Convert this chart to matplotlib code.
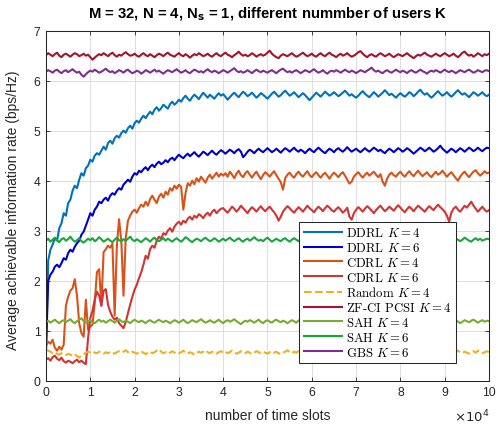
import numpy as np
import matplotlib
matplotlib.use("Agg")
import matplotlib.pyplot as plt
from matplotlib.font_manager import FontProperties

# time axis: one sample every 500 slots, 0 .. 100000
time_slots = np.arange(0, 100001, 500)

ddrl_k4 = [
    0.60, 2.40, 2.62, 2.72, 2.85, 2.80, 3.05, 3.15, 3.35, 3.30, 3.55, 3.62, 3.80, 3.90, 3.85, 4.02, 4.15, 4.10, 4.25, 4.30,
    4.42, 4.38, 4.50, 4.55, 4.52, 4.60, 4.68, 4.62, 4.75, 4.80, 4.74, 4.85, 4.90, 4.86, 4.95, 5.00, 4.96, 5.05, 5.10, 5.04,
    5.15, 5.20, 5.16, 5.24, 5.30, 5.25, 5.32, 5.38, 5.33, 5.42, 5.47, 5.40, 5.45, 5.52, 5.48, 5.44, 5.53, 5.58, 5.52, 5.56,
    5.62, 5.58, 5.65, 5.70, 5.64, 5.60, 5.67, 5.72, 5.68, 5.63, 5.70, 5.76, 5.71, 5.66, 5.72, 5.68, 5.64, 5.70, 5.75, 5.70,
    5.73, 5.68, 5.62, 5.67, 5.72, 5.76, 5.71, 5.67, 5.73, 5.78, 5.74, 5.69, 5.72, 5.76, 5.71, 5.66, 5.70, 5.75, 5.72, 5.68,
    5.64, 5.69, 5.74, 5.78, 5.73, 5.68, 5.71, 5.76, 5.80, 5.75, 5.70, 5.73, 5.77, 5.72, 5.67, 5.71, 5.75, 5.71, 5.66, 5.61,
    5.66, 5.71, 5.76, 5.72, 5.68, 5.73, 5.78, 5.74, 5.70, 5.73, 5.77, 5.73, 5.69, 5.72, 5.76, 5.80, 5.75, 5.70, 5.73, 5.69,
    5.66, 5.70, 5.75, 5.79, 5.74, 5.70, 5.67, 5.72, 5.77, 5.73, 5.68, 5.72, 5.76, 5.81, 5.76, 5.71, 5.74, 5.70, 5.66, 5.71,
    5.75, 5.71, 5.68, 5.72, 5.77, 5.74, 5.69, 5.73, 5.78, 5.82, 5.76, 5.72, 5.75, 5.70, 5.66, 5.70, 5.75, 5.79, 5.74, 5.70,
    5.73, 5.77, 5.72, 5.68, 5.72, 5.77, 5.81, 5.76, 5.72, 5.75, 5.71, 5.67, 5.72, 5.77, 5.74, 5.70, 5.73, 5.77, 5.72, 5.69,
    5.72]

ddrl_k6 = [
    0.60, 2.00, 2.12, 2.18, 2.28, 2.32, 2.27, 2.35, 2.45, 2.42, 2.55, 2.62, 2.58, 2.68, 2.75, 2.80, 2.92, 2.98, 3.10, 3.22,
    3.35, 3.30, 3.42, 3.48, 3.58, 3.55, 3.62, 3.66, 3.60, 3.70, 3.75, 3.72, 3.80, 3.85, 3.82, 3.92, 3.97, 4.02, 3.98, 4.08,
    4.15, 4.12, 4.20, 4.17, 4.23, 4.27, 4.21, 4.28, 4.32, 4.27, 4.34, 4.38, 4.33, 4.36, 4.41, 4.37, 4.43, 4.46, 4.41, 4.47,
    4.52, 4.48, 4.45, 4.50, 4.54, 4.49, 4.53, 4.57, 4.52, 4.48, 4.53, 4.58, 4.55, 4.51, 4.56, 4.60, 4.55, 4.52, 4.57, 4.61,
    4.58, 4.54, 4.58, 4.62, 4.59, 4.55, 4.60, 4.63, 4.58, 4.47, 4.52, 4.58, 4.62, 4.59, 4.55, 4.60, 4.64, 4.60, 4.57, 4.61,
    4.65, 4.61, 4.57, 4.60, 4.64, 4.60, 4.56, 4.61, 4.65, 4.62, 4.58, 4.62, 4.66, 4.61, 4.58, 4.62, 4.59, 4.55, 4.60, 4.64,
    4.60, 4.57, 4.62, 4.66, 4.62, 4.58, 4.55, 4.60, 4.64, 4.61, 4.57, 4.62, 4.65, 4.61, 4.58, 4.62, 4.67, 4.62, 4.58, 4.61,
    4.64, 4.60, 4.57, 4.61, 4.65, 4.61, 4.58, 4.62, 4.66, 4.63, 4.59, 4.62, 4.58, 4.55, 4.60, 4.64, 4.61, 4.57, 4.61, 4.65,
    4.62, 4.58, 4.61, 4.65, 4.62, 4.58, 4.54, 4.58, 4.62, 4.66, 4.63, 4.59, 4.62, 4.66, 4.62, 4.58, 4.61, 4.65, 4.70, 4.64,
    4.60, 4.56, 4.60, 4.64, 4.61, 4.57, 4.61, 4.65, 4.62, 4.58, 4.62, 4.66, 4.63, 4.59, 4.62, 4.66, 4.62, 4.59, 4.63, 4.66,
    4.65]

cdrl_k4 = [
    0.70, 0.78, 0.74, 0.82, 0.66, 0.60, 0.68, 0.62, 0.72, 1.50, 1.68, 1.80, 1.85, 2.03, 1.70, 1.15, 0.95, 0.88, 1.62, 1.02,
    1.08, 1.12, 1.55, 2.17, 2.23, 1.50, 2.57, 2.63, 2.70, 2.66, 2.74, 1.30, 2.70, 3.23, 2.80, 1.70, 2.85, 3.20, 3.30, 3.38,
    3.42, 3.36, 3.45, 3.52, 3.48, 3.58, 3.50, 3.63, 3.70, 3.62, 3.55, 3.68, 3.74, 3.66, 3.78, 3.72, 3.85, 3.80, 3.90, 3.84,
    3.92, 3.88, 3.42, 3.75, 3.95, 3.90, 4.00, 3.93, 4.05, 3.98, 4.08, 4.02, 3.96, 4.06, 4.12, 4.04, 4.10, 4.16, 4.08, 4.14,
    4.10, 4.15, 4.08, 4.18, 4.12, 4.05, 4.14, 4.20, 4.11, 4.07, 4.15, 4.19, 4.12, 4.06, 4.13, 4.18, 4.10, 4.03, 4.11, 4.17,
    4.13, 4.08, 4.14, 4.19, 4.11, 4.04, 3.97, 3.82, 4.05, 4.12, 4.16, 4.10, 4.06, 4.13, 4.18, 4.12, 4.08, 4.14, 4.19, 4.11,
    4.07, 4.13, 4.17, 4.11, 4.06, 4.12, 4.16, 4.10, 4.04, 4.11, 4.16, 4.12, 4.07, 4.13, 4.17, 4.10, 4.02, 3.94, 3.98, 4.08,
    4.13, 4.17, 4.11, 4.06, 4.12, 4.16, 4.10, 4.14, 4.18, 4.12, 4.07, 4.13, 3.98, 3.90, 4.04, 4.12, 4.16, 4.11, 4.08, 4.14,
    4.18, 4.12, 4.08, 4.14, 4.19, 4.13, 4.09, 4.15, 4.20, 4.14, 4.09, 4.13, 4.17, 4.11, 4.07, 4.13, 4.18, 4.12, 4.15, 4.20,
    4.14, 4.08, 4.13, 4.17, 4.11, 4.05, 4.00, 4.08, 4.14, 4.18, 4.12, 4.07, 4.13, 4.18, 4.21, 4.15, 4.10, 4.14, 4.19, 4.15,
    4.16]

cdrl_k6 = [
    0.42, 0.45, 0.40, 0.47, 0.50, 0.44, 0.41, 0.46, 0.39, 0.36, 0.40, 0.38, 0.35, 0.39, 0.42, 0.37, 0.40, 0.36, 0.33, 0.85,
    1.25, 1.40, 1.62, 1.78, 1.70, 1.50, 1.80, 1.83, 1.52, 1.38, 1.28, 1.22, 1.26, 1.15, 1.10, 1.05, 1.17, 1.35, 1.52, 1.68,
    1.82, 1.92, 2.05, 2.17, 2.32, 2.50, 2.44, 2.63, 2.70, 2.66, 2.80, 2.88, 2.84, 2.95, 2.92, 3.00, 3.05, 2.98, 3.08, 3.14,
    3.18, 3.12, 3.20, 3.16, 3.24, 3.28, 3.22, 3.30, 3.26, 3.33, 3.30, 3.25, 3.32, 3.36, 3.30, 3.38, 3.42, 3.35, 3.40, 3.44,
    3.45, 3.40, 3.36, 3.42, 3.48, 3.44, 3.38, 3.43, 3.50, 3.45, 3.40, 3.35, 3.42, 3.47, 3.43, 3.38, 3.44, 3.49, 3.43, 3.39,
    3.44, 3.48, 3.42, 3.37, 3.30, 3.20, 3.28, 3.38, 3.44, 3.49, 3.45, 3.40, 3.36, 3.42, 3.47, 3.43, 3.38, 3.44, 3.50, 3.45,
    3.41, 3.37, 3.43, 3.48, 3.44, 3.39, 3.45, 3.50, 3.46, 3.41, 3.38, 3.43, 3.47, 3.42, 3.36, 3.40, 3.46, 3.28, 3.22, 3.35,
    3.42, 3.47, 3.43, 3.38, 3.44, 3.49, 3.45, 3.40, 3.35, 3.41, 3.46, 3.50, 3.44, 3.39, 3.43, 3.48, 3.44, 3.40, 3.46, 3.51,
    3.46, 3.41, 3.37, 3.43, 3.48, 3.44, 3.39, 3.45, 3.50, 3.46, 3.42, 3.38, 3.44, 3.49, 3.45, 3.41, 3.47, 3.52, 3.47, 3.43,
    3.38, 3.30, 3.18, 3.36, 3.44, 3.48, 3.42, 3.38, 3.44, 3.50, 3.46, 3.52, 3.58, 3.50, 3.44, 3.38, 3.43, 3.48, 3.42, 3.38,
    3.41]

random_k4 = [
    0.62, 0.60, 0.58, 0.55, 0.57, 0.54, 0.52, 0.55, 0.53, 0.51, 0.54, 0.52, 0.50, 0.53, 0.49, 0.46, 0.51, 0.53, 0.56, 0.58,
    0.57, 0.59, 0.56, 0.55, 0.58, 0.56, 0.54, 0.57, 0.55, 0.58, 0.56, 0.54, 0.57, 0.59, 0.56, 0.58, 0.61, 0.57, 0.55, 0.58,
    0.56, 0.54, 0.57, 0.59, 0.56, 0.53, 0.56, 0.58, 0.55, 0.57, 0.60, 0.63, 0.58, 0.55, 0.57, 0.54, 0.56, 0.59, 0.56, 0.58,
    0.55, 0.57, 0.60, 0.56, 0.54, 0.57, 0.55, 0.52, 0.55, 0.58, 0.56, 0.58, 0.61, 0.57, 0.55, 0.58, 0.56, 0.54, 0.57, 0.59,
    0.56, 0.58, 0.55, 0.57, 0.60, 0.57, 0.54, 0.56, 0.59, 0.57, 0.55, 0.58, 0.56, 0.53, 0.56, 0.59, 0.57, 0.55, 0.58, 0.56,
    0.54, 0.57, 0.59, 0.56, 0.58, 0.55, 0.53, 0.56, 0.58, 0.61, 0.57, 0.55, 0.58, 0.56, 0.59, 0.57, 0.54, 0.57, 0.55, 0.58,
    0.60, 0.57, 0.55, 0.58, 0.56, 0.53, 0.56, 0.59, 0.57, 0.55, 0.58, 0.61, 0.57, 0.55, 0.57, 0.54, 0.57, 0.59, 0.56, 0.58,
    0.55, 0.58, 0.60, 0.57, 0.54, 0.57, 0.55, 0.58, 0.56, 0.53, 0.56, 0.59, 0.57, 0.55, 0.58, 0.60, 0.57, 0.55, 0.57, 0.54,
    0.57, 0.59, 0.56, 0.54, 0.57, 0.55, 0.58, 0.61, 0.57, 0.55, 0.57, 0.54, 0.56, 0.59, 0.57, 0.55, 0.58, 0.56, 0.53, 0.56,
    0.58, 0.56, 0.59, 0.57, 0.54, 0.57, 0.60, 0.57, 0.55, 0.58, 0.56, 0.54, 0.57, 0.59, 0.56, 0.60, 0.58, 0.55, 0.57, 0.59,
    0.57]

zfci_k4 = [
    6.51, 6.55, 6.52, 6.49, 6.53, 6.56, 6.50, 6.47, 6.52, 6.54, 6.51, 6.48, 6.52, 6.55, 6.53, 6.49, 6.51, 6.54, 6.50, 6.52,
    6.47, 6.42, 6.46, 6.50, 6.53, 6.51, 6.55, 6.52, 6.49, 6.53, 6.56, 6.51, 6.48, 6.52, 6.50, 6.54, 6.57, 6.53, 6.50, 6.51,
    6.54, 6.50, 6.48, 6.52, 6.55, 6.51, 6.49, 6.53, 6.50, 6.47, 6.51, 6.54, 6.52, 6.49, 6.53, 6.56, 6.52, 6.50, 6.48, 6.52,
    6.55, 6.51, 6.49, 6.53, 6.50, 6.46, 6.50, 6.53, 6.51, 6.55, 6.52, 6.49, 6.51, 6.54, 6.50, 6.48, 6.52, 6.55, 6.51, 6.49,
    6.53, 6.56, 6.52, 6.50, 6.47, 6.51, 6.54, 6.58, 6.53, 6.50, 6.52, 6.49, 6.51, 6.55, 6.52, 6.48, 6.51, 6.53, 6.50, 6.52,
    6.56, 6.60, 6.54, 6.50, 6.47, 6.45, 6.50, 6.53, 6.51, 6.49, 6.52, 6.55, 6.51, 6.48, 6.50, 6.53, 6.56, 6.52, 6.49, 6.51,
    6.54, 6.50, 6.48, 6.52, 6.55, 6.51, 6.49, 6.53, 6.56, 6.52, 6.50, 6.47, 6.51, 6.54, 6.50, 6.52, 6.55, 6.51, 6.48, 6.50,
    6.53, 6.57, 6.59, 6.54, 6.50, 6.47, 6.51, 6.53, 6.50, 6.48, 6.52, 6.55, 6.52, 6.49, 6.51, 6.54, 6.50, 6.47, 6.50, 6.53,
    6.51, 6.49, 6.52, 6.55, 6.51, 6.48, 6.45, 6.49, 6.52, 6.50, 6.53, 6.56, 6.52, 6.50, 6.48, 6.51, 6.54, 6.51, 6.49, 6.52,
    6.55, 6.52, 6.49, 6.51, 6.54, 6.50, 6.47, 6.51, 6.56, 6.58, 6.53, 6.50, 6.52, 6.48, 6.51, 6.55, 6.52, 6.49, 6.53, 6.51,
    6.54]

sah_k4 = [
    1.17, 1.20, 1.16, 1.19, 1.22, 1.18, 1.15, 1.19, 1.21, 1.17, 1.20, 1.23, 1.18, 1.15, 1.19, 1.22, 1.25, 1.19, 1.16, 1.18,
    1.21, 1.17, 1.15, 1.19, 1.22, 1.18, 1.20, 1.16, 1.19, 1.22, 1.19, 1.16, 1.20, 1.23, 1.19, 1.17, 1.20, 1.18, 1.15, 1.19,
    1.22, 1.19, 1.17, 1.20, 1.18, 1.15, 1.19, 1.21, 1.18, 1.16, 1.19, 1.22, 1.19, 1.17, 1.20, 1.18, 1.15, 1.18, 1.21, 1.19,
    1.16, 1.19, 1.22, 1.18, 1.15, 1.18, 1.21, 1.19, 1.17, 1.20, 1.23, 1.19, 1.16, 1.18, 1.21, 1.18, 1.16, 1.19, 1.22, 1.18,
    1.15, 1.19, 1.21, 1.18, 1.20, 1.23, 1.19, 1.16, 1.13, 1.17, 1.20, 1.18, 1.21, 1.19, 1.16, 1.19, 1.22, 1.18, 1.15, 1.19,
    1.21, 1.18, 1.16, 1.20, 1.22, 1.19, 1.17, 1.20, 1.18, 1.15, 1.18, 1.21, 1.19, 1.16, 1.20, 1.23, 1.19, 1.17, 1.19, 1.21,
    1.18, 1.15, 1.19, 1.22, 1.19, 1.17, 1.20, 1.18, 1.16, 1.19, 1.22, 1.18, 1.15, 1.19, 1.21, 1.18, 1.20, 1.17, 1.19, 1.22,
    1.19, 1.16, 1.18, 1.21, 1.18, 1.15, 1.19, 1.22, 1.19, 1.17, 1.20, 1.18, 1.15, 1.18, 1.21, 1.19, 1.22, 1.18, 1.16, 1.19,
    1.21, 1.18, 1.16, 1.19, 1.22, 1.19, 1.17, 1.20, 1.23, 1.19, 1.16, 1.18, 1.21, 1.18, 1.15, 1.19, 1.21, 1.18, 1.20, 1.17,
    1.19, 1.22, 1.18, 1.16, 1.19, 1.21, 1.18, 1.15, 1.18, 1.21, 1.19, 1.17, 1.20, 1.22, 1.19, 1.16, 1.19, 1.21, 1.18, 1.20,
    1.19]

sah_k6 = [
    2.80, 2.84, 2.78, 2.82, 2.86, 2.81, 2.77, 2.83, 2.85, 2.80, 2.83, 2.88, 2.82, 2.78, 2.81, 2.85, 2.79, 2.76, 2.80, 2.84,
    2.81, 2.85, 2.79, 2.82, 2.87, 2.83, 2.78, 2.81, 2.84, 2.80, 2.77, 2.82, 2.86, 2.81, 2.79, 2.83, 2.80, 2.84, 2.88, 2.82,
    2.79, 2.83, 2.80, 2.77, 2.81, 2.85, 2.82, 2.78, 2.83, 2.86, 2.81, 2.79, 2.82, 2.85, 2.80, 2.84, 2.81, 2.78, 2.82, 2.85,
    2.81, 2.78, 2.82, 2.87, 2.84, 2.80, 2.77, 2.81, 2.84, 2.82, 2.79, 2.83, 2.86, 2.82, 2.79, 2.81, 2.85, 2.82, 2.78, 2.81,
    2.84, 2.80, 2.83, 2.86, 2.82, 2.79, 2.82, 2.85, 2.81, 2.78, 2.82, 2.84, 2.80, 2.83, 2.87, 2.83, 2.80, 2.82, 2.79, 2.83,
    2.86, 2.82, 2.78, 2.81, 2.84, 2.81, 2.79, 2.83, 2.85, 2.81, 2.78, 2.82, 2.85, 2.82, 2.79, 2.83, 2.86, 2.82, 2.80, 2.83,
    2.80, 2.84, 2.81, 2.77, 2.80, 2.84, 2.82, 2.79, 2.83, 2.86, 2.82, 2.80, 2.83, 2.79, 2.82, 2.85, 2.81, 2.78, 2.82, 2.85,
    2.82, 2.79, 2.83, 2.86, 2.83, 2.80, 2.82, 2.85, 2.81, 2.78, 2.81, 2.84, 2.82, 2.79, 2.83, 2.87, 2.83, 2.80, 2.82, 2.84,
    2.81, 2.78, 2.82, 2.85, 2.82, 2.79, 2.83, 2.80, 2.84, 2.87, 2.82, 2.79, 2.81, 2.84, 2.80, 2.83, 2.85, 2.81, 2.78, 2.82,
    2.85, 2.81, 2.79, 2.83, 2.80, 2.84, 2.82, 2.79, 2.82, 2.86, 2.83, 2.80, 2.78, 2.82, 2.85, 2.81, 2.84, 2.80, 2.82, 2.84,
    2.83]

gbs_k6 = [
    6.18, 6.21, 6.19, 6.16, 6.20, 6.22, 6.18, 6.15, 6.19, 6.21, 6.17, 6.20, 6.23, 6.19, 6.16, 6.18, 6.12, 6.08, 6.13, 6.17,
    6.20, 6.18, 6.22, 6.19, 6.16, 6.18, 6.21, 6.24, 6.20, 6.17, 6.19, 6.15, 6.18, 6.21, 6.19, 6.16, 6.20, 6.22, 6.18, 6.15,
    6.17, 6.20, 6.18, 6.14, 6.17, 6.21, 6.19, 6.16, 6.19, 6.22, 6.18, 6.20, 6.17, 6.14, 6.18, 6.21, 6.19, 6.17, 6.20, 6.23,
    6.19, 6.16, 6.18, 6.21, 6.17, 6.15, 6.19, 6.22, 6.20, 6.17, 6.19, 6.16, 6.20, 6.23, 6.19, 6.17, 6.20, 6.18, 6.15, 6.18,
    6.21, 6.19, 6.16, 6.19, 6.22, 6.25, 6.20, 6.17, 6.19, 6.16, 6.18, 6.21, 6.18, 6.15, 6.19, 6.22, 6.19, 6.17, 6.20, 6.18,
    6.16, 6.19, 6.21, 6.18, 6.15, 6.19, 6.22, 6.24, 6.20, 6.17, 6.19, 6.16, 6.19, 6.21, 6.18, 6.15, 6.18, 6.21, 6.19, 6.17,
    6.20, 6.23, 6.19, 6.16, 6.18, 6.21, 6.17, 6.14, 6.18, 6.20, 6.18, 6.21, 6.19, 6.16, 6.19, 6.22, 6.19, 6.17, 6.20, 6.18,
    6.15, 6.18, 6.21, 6.19, 6.17, 6.20, 6.23, 6.26, 6.21, 6.18, 6.20, 6.17, 6.15, 6.19, 6.21, 6.18, 6.16, 6.19, 6.22, 6.19,
    6.17, 6.20, 6.18, 6.15, 6.19, 6.21, 6.18, 6.16, 6.19, 6.22, 6.19, 6.17, 6.14, 6.18, 6.20, 6.18, 6.21, 6.19, 6.16, 6.19,
    6.22, 6.19, 6.17, 6.20, 6.18, 6.15, 6.18, 6.21, 6.19, 6.17, 6.20, 6.22, 6.19, 6.16, 6.18, 6.21, 6.19, 6.17, 6.20, 6.21,
    6.19]

x_ticks = [0, 10000, 20000, 30000, 40000, 50000, 60000, 70000, 80000, 90000, 100000]
x_tick_labels = ['0', '1', '2', '3', '4', '5', '6', '7', '8', '9', '10']

plt.rcParams['font.family'] = ['Liberation Sans', 'DejaVu Sans']
plt.rcParams['mathtext.fontset'] = 'cm'

ink = '#262626'

fig = plt.figure(figsize=(5.02, 4.27), dpi=100)
ax = fig.add_axes([0.0916, 0.1061, 0.8825, 0.8197])

curves = [
    (ddrl_k4, '#0072BD', '-', r'DDRL $K=4$'),
    (ddrl_k6, '#0000CD', '-', r'DDRL $K=6$'),
    (cdrl_k4, '#D95319', '-', r'CDRL $K=4$'),
    (cdrl_k6, '#D03434', '-', r'CDRL $K=6$'),
    (random_k4, '#EDB120', '--', r'Random $K=4$'),
    (zfci_k4, '#A2142F', '-', r'ZF-CI PCSI $K=4$'),
    (sah_k4, '#77AC30', '-', r'SAH $K=4$'),
    (sah_k6, '#16A83C', '-', r'SAH $K=6$'),
    (gbs_k6, '#7E2F8E', '-', r'GBS $K=6$'),
]
for vals, col, ls, lab in curves:
    ax.plot(time_slots, vals, color=col, linestyle=ls, linewidth=1.5, label=lab)

ax.set_xlim(0, 100000)
ax.set_ylim(0, 7)
ax.set_xticks(x_ticks)
ax.set_xticklabels(x_tick_labels)
ax.set_yticks(range(0, 8))
ax.grid(True, color='#dedede', linewidth=0.7)
ax.set_axisbelow(True)
ax.tick_params(direction='in', length=3.2, width=0.6, top=True, right=True,
               labelsize=8.8, colors=ink, pad=4)
for sp in ax.spines.values():
    sp.set_color(ink)
    sp.set_linewidth(0.75)

ax.set_xlabel('number of time slots', fontsize=10, color=ink, labelpad=7)
ax.set_ylabel('Average achievable information rate (bps/Hz)', fontsize=10, color=ink, labelpad=4)
ax.yaxis.set_label_coords(-0.058, 0.49)
ax.set_title(r'M = 32, N = 4, N$_{\mathbf{s}}$ = 1, different nummber of users K',
             fontsize=10.7, fontweight='bold', color='black', pad=9.5, math_fontfamily='dejavusans')
ax.text(1.0, -0.1, r'$\times10^{4}$', transform=ax.transAxes, ha='right', va='center',
        fontsize=9.5, color=ink, math_fontfamily='dejavusans')

leg_font = FontProperties(family='cmr10', size=9.2, math_fontfamily='cm')
leg = ax.legend(loc='lower right', bbox_to_anchor=(0.925, 0.0506), borderaxespad=0,
                prop=leg_font, fancybox=False, framealpha=1, edgecolor=ink,
                handlelength=3.0, handletextpad=0.3, labelspacing=0.14, borderpad=0.35)
leg.get_frame().set_linewidth(0.75)

fig.savefig('out.png', dpi=100)
